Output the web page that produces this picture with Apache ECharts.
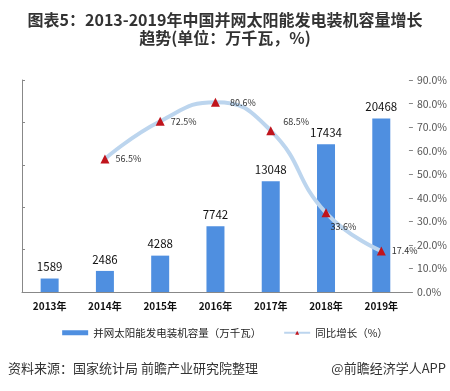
<!DOCTYPE html>
<html><head><meta charset="utf-8">
<script src="https://cdn.jsdelivr.net/npm/echarts@6/dist/echarts.min.js"></script>
<style>html,body{margin:0;padding:0;background:#fff}#c{width:450px;height:391px}</style>
</head><body><div id="c"></div>
<script>
const categories = ['2013年','2014年','2015年','2016年','2017年','2018年','2019年'];
const capacity = [1589, 2486, 4288, 7742, 13048, 17434, 20468];
const growth = [null, 56.5, 72.5, 80.6, 68.5, 33.6, 17.4];
const rightTicks = [0, 10, 20, 30, 40, 50, 60, 70, 80, 90];

const chart = echarts.init(document.getElementById('c'));
const growthData = growth.map((v, i) => {
  if (v === null) return null;
  const d = {value: v};
  if (i === 4) d.label = {position: 'right', offset: [2, -9]};
  if (i === 5) d.label = {position: 'right', offset: [-6, 14]};
  if (i === 3) d.label = {position: 'right', offset: [4, 0]};
  return d;
});
chart.setOption({
  animation: false,
  textStyle: {fontFamily: 'Noto Sans CJK SC'},
  title: {
    text: '图表5：2013-2019年中国并网太阳能发电装机容量增长\n趋势(单位：万千瓦，%)',
    left: 'center', top: 6,
    textStyle: {fontSize: 16, fontWeight: 'bold', color: '#333', lineHeight: 18, fontFamily: 'Noto Sans CJK SC'}
  },
  grid: {left: 22, right: 40, top: 80, bottom: 99},
  legend: {
    bottom: 48, left: 'center', itemGap: 22, itemWidth: 26, itemHeight: 5,
    textStyle: {fontSize: 10.5, color: '#222'},
    data: [
      {name: '并网太阳能发电装机容量（万千瓦）', icon: 'rect'},
      {name: '同比增长（%）'}
    ]
  },
  graphic: [
    {type: 'text', left: 8, top: 362, style: {text: '资料来源：国家统计局 前瞻产业研究院整理', fontSize: 13, fill: '#333', fontFamily: 'Noto Sans CJK SC'}},
    {type: 'text', right: 4, top: 362, style: {text: '@前瞻经济学人APP', fontSize: 13, fill: '#333', fontFamily: 'Noto Sans CJK SC'}}
  ],
  xAxis: {
    type: 'category', data: categories,
    axisLine: {lineStyle: {color: '#888'}},
    axisTick: {show: false},
    axisLabel: {fontSize: 10, fontWeight: 'bold', color: '#111', margin: 9}
  },
  yAxis: [
    {type: 'value', min: 0, max: 25000, interval: 5000,
     axisLine: {show: true, lineStyle: {color: '#888'}},
     axisTick: {show: true, inside: true, length: 3, lineStyle: {color: '#888'}},
     axisLabel: {show: false}, splitLine: {show: false}},
    {type: 'value', min: 0, max: 90, interval: 10, position: 'right',
     axisLine: {show: false},
     axisTick: {show: true, length: 4, lineStyle: {color: '#888'}},
     axisLabel: {fontSize: 10.5, color: '#555', margin: 8, formatter: v => v.toFixed(1) + '%'},
     splitLine: {show: false}}
  ],
  series: [
    {name: '并网太阳能发电装机容量（万千瓦）', type: 'bar', data: capacity, barWidth: 18,
     itemStyle: {color: '#4f8fe0'},
     label: {show: true, position: 'top', fontSize: 11.5, color: '#111', distance: 6}},
    {name: '同比增长（%）', type: 'line', yAxisIndex: 1, data: growthData, smooth: 0.5,
     symbol: 'triangle', symbolSize: 9,
     lineStyle: {color: '#bcd5ee', width: 4},
     itemStyle: {color: '#c0141c'},
     label: {show: true, position: 'right', fontSize: 9, color: '#333', distance: 6, formatter: p => p.value + '%'}}
  ]
});
</script></body></html>
